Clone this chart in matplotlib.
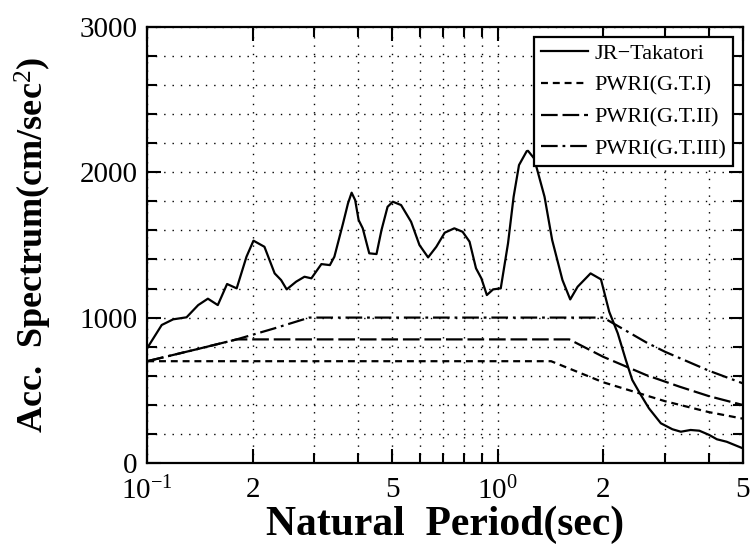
import matplotlib
matplotlib.use("Agg")
import matplotlib.pyplot as plt
from matplotlib.ticker import FixedLocator, MultipleLocator, NullFormatter, FixedFormatter

plt.rcParams['font.family'] = ['Liberation Serif', 'DejaVu Serif']
plt.rcParams['mathtext.fontset'] = 'custom'
plt.rcParams['mathtext.rm'] = 'Liberation Serif'
plt.rcParams['mathtext.it'] = 'Liberation Serif:italic'
plt.rcParams['mathtext.bf'] = 'Liberation Serif:bold'
plt.rcParams['lines.scale_dashes'] = False

# ---- data ----
jr_T = [0.100, 0.110, 0.1186, 0.1295, 0.1398, 0.149, 0.159, 0.169, 0.180, 0.192,
        0.201, 0.216, 0.231, 0.241, 0.250, 0.266, 0.281, 0.294, 0.314, 0.332,
        0.342, 0.362, 0.374, 0.383, 0.392, 0.401, 0.412, 0.430, 0.451, 0.466,
        0.485, 0.502, 0.530, 0.566, 0.598, 0.633, 0.668, 0.706, 0.752, 0.794,
        0.831, 0.867, 0.898, 0.931, 0.970, 1.02, 1.07, 1.11, 1.15, 1.21,
        1.22, 1.27, 1.36, 1.43, 1.53, 1.61, 1.69, 1.84, 1.97, 2.08,
        2.20, 2.32, 2.42, 2.56, 2.70, 2.92, 3.15, 3.33, 3.55, 3.76,
        4.01, 4.22, 4.50, 5.00]
jr_S = [790, 949, 988, 1002, 1086, 1130, 1086, 1231, 1201, 1419,
        1529, 1487, 1304, 1258, 1194, 1247, 1281, 1270, 1368, 1361,
        1419, 1648, 1786, 1859, 1808, 1671, 1614, 1442, 1437, 1602,
        1762, 1797, 1774, 1659, 1499, 1414, 1487, 1584, 1614, 1590,
        1522, 1339, 1270, 1155, 1194, 1201, 1511, 1831, 2049, 2145,
        2147, 2095, 1831, 1533, 1258, 1125, 1212, 1304, 1263, 1040,
        892, 708, 571, 468, 376, 273, 232, 215, 227, 222,
        193, 163, 146, 101]

gt1_T = [0.1, 1.42, 2.0, 3.0, 4.0, 5.0]
gt1_S = [700, 700, 555, 425, 350, 305]

gt2_T = [0.1, 0.14, 0.18, 1.6, 2.0, 2.65, 3.3, 4.0, 5.0]
gt2_S = [700, 785, 850, 850, 730, 605, 525, 460, 399]

gt3_T = [0.1, 0.14, 0.18, 0.23, 0.29, 2.0, 2.65, 3.0, 4.0, 5.0]
gt3_S = [700, 785, 850, 925, 1000, 1000, 830, 765, 635, 548]

series_labels = ['JR\u2212Takatori', 'PWRI(G.T.I)', 'PWRI(G.T.II)', 'PWRI(G.T.III)']

xtick_vals = [0.1, 0.2, 0.5, 1.0, 2.0, 5.0]
xtick_labels = [r'$10^{-1}$', '2', '5', r'$10^{0}$', '2', '5']
xminor_vals = [0.3, 0.4, 0.6, 0.7, 0.8, 0.9, 3.0, 4.0]
ytick_vals = [0, 1000, 2000, 3000]

# ---- figure ----
fig = plt.figure(figsize=(7.51, 5.47), dpi=100)
ax = fig.add_axes([0.196, 0.1536, 0.793, 0.7974])

lw = 1.6
ax.plot(jr_T, jr_S, color='black', lw=lw, linestyle='-', label=series_labels[0], zorder=5)
ax.plot(gt1_T, gt1_S, color='black', lw=lw, linestyle=(0, (5, 3.5)), label=series_labels[1], zorder=4)
ax.plot(gt2_T, gt2_S, color='black', lw=lw, linestyle=(0, (12, 3.5)), label=series_labels[2], zorder=4)
ax.plot(gt3_T, gt3_S, color='black', lw=lw, linestyle=(0, (12, 3.5, 2, 3.5)), label=series_labels[3], zorder=4)

ax.set_xscale('log')
ax.set_xlim(0.1, 5.0)
ax.set_ylim(0, 3000)

ax.xaxis.set_major_locator(FixedLocator(xtick_vals))
ax.xaxis.set_major_formatter(FixedFormatter(xtick_labels))
ax.xaxis.set_minor_locator(FixedLocator(xminor_vals))
ax.xaxis.set_minor_formatter(NullFormatter())

ax.yaxis.set_major_locator(FixedLocator(ytick_vals))
ax.yaxis.set_minor_locator(MultipleLocator(200))

ax.tick_params(which='major', direction='in', length=10, width=1.5, top=True, right=True,
               labelsize=21, pad=7)
ax.tick_params(which='minor', direction='in', length=7, width=1.5, top=True, right=True)
ax.tick_params(axis='x', which='major', pad=10)

ax.grid(True, which='both', color='black', linestyle=(0, (1, 5)), linewidth=1.0)

for s in ax.spines.values():
    s.set_linewidth(1.6)

ax.set_xlabel('Natural  Period(sec)', fontsize=30, fontweight='bold', labelpad=0)
ax.set_ylabel('Acc.  Spectrum(cm/sec$^{2}$)', fontsize=26, fontweight='bold', labelpad=18)

leg = ax.legend(loc='upper right', fontsize=16, frameon=True, fancybox=False,
                edgecolor='black', framealpha=1.0, handlelength=2.1, handletextpad=0.3,
                labelspacing=0.5, borderpad=0.3, borderaxespad=0.45)
leg.get_frame().set_linewidth(1.6)
leg.set_zorder(10)

fig.savefig('out.png', dpi=100)
